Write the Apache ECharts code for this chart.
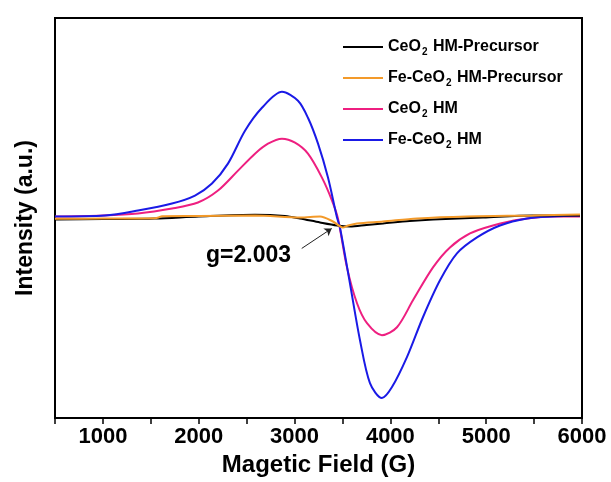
<!DOCTYPE html>
<html>
<head>
<meta charset="utf-8">
<script src="https://cdn.jsdelivr.net/npm/echarts@6/dist/echarts.min.js"></script>
<style>html,body{margin:0;padding:0;background:#fff}#c{width:611px;height:482px}</style>
</head>
<body>
<div id="c"></div>
<script>
// Magnetic field (G) / intensity (a.u.) pairs
var seriesNames = ['CeO2 HM-Precursor', 'Fe-CeO2 HM-Precursor', 'CeO2 HM', 'Fe-CeO2 HM'];
var ceo2Precursor = [[500,-3],[1000,-2.5],[1544,-2],[2000,0],[2587,1.7],[2900,0.5],[3057,-2],[3266,-6],[3443,-9],[3578,-10],[3750,-8.5],[3923,-7],[4200,-4.5],[4445,-3],[4967,-1],[5488,1],[5979,1]];
var feCeo2Precursor = [[500,-2.3],[1000,-2],[1544,-1.7],[1580,-1],[1617,0.3],[2000,0.5],[2587,1],[3057,-1],[3266,0],[3401,-5],[3505,-11],[3560,-9],[3652,-7],[3923,-5],[4278,-2],[4800,0],[5488,1],[5979,2]];
var ceo2HM = [[500,0],[1000,1],[1366,3],[1721,8],[1992,14],[2201,26],[2410,46],[2587,63],[2723,73],[2869,78],[3005,74],[3140,63],[3286,39],[3391,16],[3453,-2],[3547,-51],[3652,-87],[3756,-107],[3912,-119],[4069,-111],[4236,-84],[4445,-51],[4622,-31],[4831,-17],[5071,-9],[5353,-3],[5697,0],[5979,0]];
var feCeo2HM = [[500,0],[1022,1],[1366,6],[1721,13],[1961,21],[2138,33],[2305,53],[2483,86],[2660,109],[2869,125],[3036,116],[3140,99],[3245,73],[3349,39],[3443,-1],[3474,-11],[3578,-67],[3683,-124],[3787,-167],[3912,-182],[4017,-171],[4173,-141],[4340,-101],[4518,-64],[4695,-37],[4904,-21],[5144,-9],[5426,-2],[5697,0],[5979,1]];
var xTicks = [1000, 2000, 3000, 4000, 5000, 6000];
var annotationText = 'g=2.003';
var arrowFrom = [3075, -32];
var arrowTo = [3388, -12];

var colors = ['#000000', '#f39a2a', '#ee1f80', '#1a1ae6'];
var allData = [ceo2Precursor, feCeo2Precursor, ceo2HM, feCeo2HM];

var chart = echarts.init(document.getElementById('c'));
var font = '"Liberation Sans", Arial, sans-serif';

function legendFmt(name) {
  var i = name.indexOf('2');
  return '{t|' + name.slice(0, i) + '}{s|2}{t|' + name.slice(i + 1) + '}';
}

var series = seriesNames.map(function (n, i) {
  return {
    name: n,
    type: 'line',
    data: allData[i],
    symbol: 'none',
    smooth: 0.3,
    lineStyle: { color: colors[i], width: 2 },
    itemStyle: { color: colors[i] },
    z: i === 0 || i === 1 ? 3 : 2
  };
});
series[0].markLine = {
  silent: true,
  symbol: ['none', 'arrow'],
  symbolSize: 7,
  label: { show: false },
  lineStyle: { color: '#222', width: 1, type: 'solid' },
  data: [[{ coord: arrowFrom }, { coord: arrowTo }]]
};

chart.setOption({
  animation: false,
  backgroundColor: '#fff',
  grid: { left: 55, right: 29, top: 18, bottom: 64, show: true, borderColor: '#000', borderWidth: 2, backgroundColor: 'transparent' },
  legend: {
    orient: 'vertical',
    left: 338,
    top: 34,
    icon: 'rect',
    itemWidth: 40,
    itemHeight: 2,
    itemGap: 13,
    data: seriesNames.map(function (n, i) { return { name: n, itemStyle: { color: colors[i] } }; }),
    formatter: legendFmt,
    textStyle: {
      rich: {
        t: { fontFamily: font, fontWeight: 'bold', fontSize: 16, color: '#000', height: 22 },
        s: { fontFamily: font, fontWeight: 'bold', fontSize: 10, color: '#000', padding: [10, 1, 0, 1] }
      }
    }
  },
  xAxis: {
    type: 'value',
    min: 500,
    max: 6000,
    interval: 500,
    name: 'Magetic Field (G)',
    nameLocation: 'middle',
    nameGap: 34,
    nameTextStyle: { fontFamily: font, fontWeight: 'bold', fontSize: 24, color: '#000' },
    axisLine: { show: true, onZero: false, lineStyle: { color: '#000', width: 2 } },
    axisTick: { show: true, inside: false, length: 6, lineStyle: { color: '#000', width: 1.5 } },
    splitLine: { show: false },
    axisLabel: {
      margin: 8,
      fontFamily: font, fontWeight: 'bold', fontSize: 22, color: '#000',
      formatter: function (v) { return xTicks.indexOf(v) >= 0 ? String(v) : ''; }
    }
  },
  yAxis: {
    type: 'value',
    min: -202,
    max: 199,
    name: 'Intensity (a.u.)',
    nameLocation: 'middle',
    nameGap: 18,
    nameRotate: 90,
    nameTextStyle: { fontFamily: font, fontWeight: 'bold', fontSize: 23, color: '#000' },
    axisLine: { show: false, onZero: false },
    axisTick: { show: false },
    axisLabel: { show: false },
    splitLine: { show: false }
  },
  graphic: [{
    type: 'text',
    left: 206,
    top: 244,
    style: { text: annotationText, fontFamily: font, fontWeight: 'bold', fontSize: 23, fill: '#000' }
  }],
  series: series
});
</script>
</body>
</html>
